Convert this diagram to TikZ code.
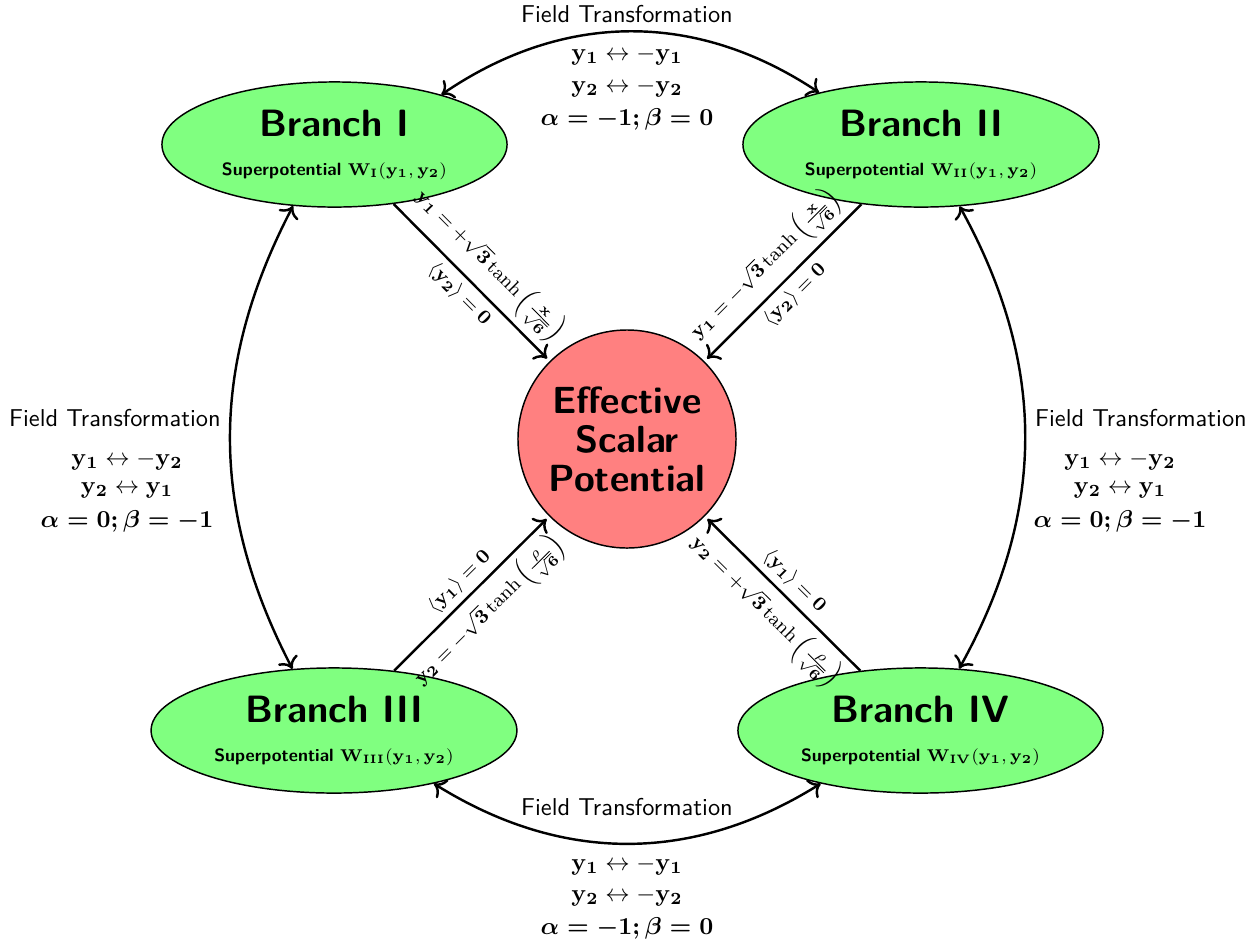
\documentclass[tikz,border=0pt]{standalone}
\usepackage{amsmath}
\usetikzlibrary{arrows.meta,shapes.geometric}
\begin{document}
\begin{tikzpicture}[x=0.41pt,y=0.41pt,
  branch/.style={ellipse, draw=black, semithick, fill=green!50, inner sep=0pt, align=center,
    font=\sffamily\bfseries\fontsize{15.6}{16}\selectfont},
  potential/.style={circle, draw=black, semithick, fill=red!50, inner sep=0pt, align=center,
    minimum size=89.4pt, font=\sffamily\bfseries\fontsize{15.5}{16}\selectfont},
  arr/.style={-{To[length=4.5pt,width=9pt]}, line width=1pt, shorten >=1.5pt},
  dbl/.style={{To[length=4.5pt,width=9pt]}-{To[length=4.5pt,width=9pt]}, line width=1pt},
  lbl/.style={sloped, midway, inner sep=2.5pt, font=\fontsize{8}{10}\selectfont},
  ftl/.style={font=\sffamily, anchor=base, inner sep=0pt},
  ml/.style={anchor=base, inner sep=0pt}]
\useasboundingbox (0,0) rectangle (1259,-945);
\newcommand{\supline}[1]{{\fontsize{7.3}{9}\selectfont Superpotential $\mathbf{W_{#1}(y_1,y_2)}$}}
% nodes
\node[branch, minimum width=141.5pt, minimum height=51.3pt] (b1) at (334.5,-144.5) {Branch I\\\supline{I}};
\node[branch, minimum width=146pt, minimum height=51.3pt] (b2) at (921,-144.5) {Branch II\\\supline{II}};
\node[branch, minimum width=150pt, minimum height=51.3pt] (b3) at (334,-730.5) {Branch III\\\supline{III}};
\node[branch, minimum width=149.7pt, minimum height=51.3pt] (b4) at (920.5,-730.5) {Branch IV\\\supline{IV}};
\node[potential] (c) at (627,-439) {Effective\\Scalar\\Potential};
% radial arrows
\draw[arr] (b1) -- node[lbl, above] (l1a) {$\mathbf{y_1 = +\sqrt{3}\tanh\left(\frac{x}{\sqrt{6}}\right)}$}
                   node[lbl, below] (l1b) {$\mathbf{\langle y_2\rangle = 0}$} (c);
\draw[arr] (b2) -- node[lbl, above] (l2a) {$\mathbf{y_1 = -\sqrt{3}\tanh\left(\frac{x}{\sqrt{6}}\right)}$}
                   node[lbl, below] (l2b) {$\mathbf{\langle y_2\rangle = 0}$} (c);
\draw[arr] (b3) -- node[lbl, above] (l3a) {$\mathbf{\langle y_1\rangle = 0}$}
                   node[lbl, below] (l3b) {$\mathbf{y_2 = -\sqrt{3}\tanh\left(\frac{\rho}{\sqrt{6}}\right)}$} (c);
\draw[arr] (b4) -- node[lbl, above] (l4a) {$\mathbf{\langle y_1\rangle = 0}$}
                   node[lbl, below] (l4b) {$\mathbf{y_2 = +\sqrt{3}\tanh\left(\frac{\rho}{\sqrt{6}}\right)}$} (c);
% transformation arrows
\draw[dbl] (b1.25) to[bend left=34] (b2.153);
\draw[dbl] (b3.-28) to[bend right=32] (b4.-152);
\draw[dbl] (b1.236) to[bend right=27.5] (b3.124);
\draw[dbl] (b2.302) to[bend left=29] (b4.58);
% top labels
\node[ftl] (ft1) at (627,-22) {Field Transformation};
\node[ml] (m1a) at (627,-60) {$\mathbf{y_1 \leftrightarrow -y_1}$};
\node[ml] (m1b) at (627,-92) {$\mathbf{y_2 \leftrightarrow -y_2}$};
\node[ml] (m1c) at (627,-125) {$\boldsymbol{\alpha = -1; \beta = 0}$};
% bottom labels
\node[ftl] (ft2) at (627,-815) {Field Transformation};
\node[ml] (m2a) at (627,-870) {$\mathbf{y_1 \leftrightarrow -y_1}$};
\node[ml] (m2b) at (627,-901) {$\mathbf{y_2 \leftrightarrow -y_2}$};
\node[ml] (m2c) at (627,-934) {$\boldsymbol{\alpha = -1; \beta = 0}$};
% left labels
\node[ftl] (ft3) at (115,-426) {Field Transformation};
\node[ml] (m3a) at (127,-465) {$\mathbf{y_1 \leftrightarrow -y_2}$};
\node[ml] (m3b) at (127,-493) {$\mathbf{y_2 \leftrightarrow y_1}$};
\node[ml] (m3c) at (127,-527) {$\boldsymbol{\alpha = 0; \beta = -1}$};
% right labels
\node[ftl] (ft4) at (1141,-426) {Field Transformation};
\node[ml] (m4a) at (1120,-465) {$\mathbf{y_1 \leftrightarrow -y_2}$};
\node[ml] (m4b) at (1120,-493) {$\mathbf{y_2 \leftrightarrow y_1}$};
\node[ml] (m4c) at (1120,-527) {$\boldsymbol{\alpha = 0; \beta = -1}$};
\end{tikzpicture}
\end{document}
